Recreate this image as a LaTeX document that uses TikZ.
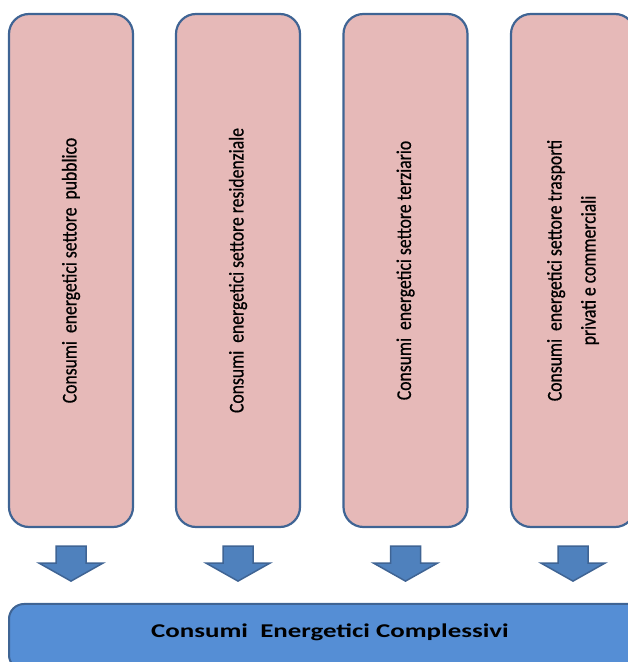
\documentclass[tikz,border=0pt]{standalone}
\usepackage{fontspec}
\setmainfont{Carlito}
\newfontfamily\boxfont[FakeStretch=0.84,FakeBold=0.6]{Carlito}
\newfontfamily\totalfont[FakeStretch=1.38]{Carlito}
\usetikzlibrary{calc}
\definecolor{boxpink}{HTML}{E6B9B8}
\definecolor{edgeblue}{HTML}{3F6494}
\definecolor{arrowblue}{HTML}{4F81BD}
\definecolor{totalblue}{HTML}{558ED5}
\begin{document}
\begin{tikzpicture}[x=1pt,y=1pt,
  sector/.style={draw=edgeblue, line width=2.2pt, fill=boxpink,
    rounded corners=20pt, rotate=90, minimum width=513pt,
    minimum height=124pt, align=center, inner sep=0pt,
    font=\boxfont\fontsize{21}{34}\selectfont},
  downarrow/.style={draw=edgeblue, line width=1.5pt, fill=arrowblue},
  total/.style={draw=edgeblue, line width=2pt, fill=totalblue,
    rounded corners=15pt, minimum width=642pt, minimum height=66pt,
    inner sep=0pt, text height=13pt, text depth=12.4pt,
    font=\totalfont\bfseries\fontsize{19.5}{22}\selectfont}]
\useasboundingbox (0,0) rectangle (628,662);
\clip (0,0) rectangle (628,662);

% sector boxes (text runs bottom to top)
\node[sector] (s1) at (71,391.5)    {Consumi~ energetici settore~ pubblico};
\node[sector] (s2) at (238,391.5)   {Consumi~ energetici settore residenziale};
\node[sector] (s3) at (405.5,391.5) {Consumi~ energetici settore terziario};
\node[sector] (s4) at (573,391.5)   {Consumi~ energetici settore trasporti\\privati e commerciali};

% total box
\node[total] (tot) at (330,25) {Consumi~ Energetici Complessivi};

% block arrows below each sector (west anchor = bottom centre after rotation)
\foreach \n in {s1,s2,s3,s4}{
  \draw[downarrow] ($(\n.west)+(-15,-18)$) -- ++(30,0) -- ++(0,-17)
    -- ++(17,0) -- ($(\n.west)+(0,-53)$) -- ($(\n.west)+(-32,-35)$)
    -- ++(17,0) -- cycle;
}
\end{tikzpicture}
\end{document}
